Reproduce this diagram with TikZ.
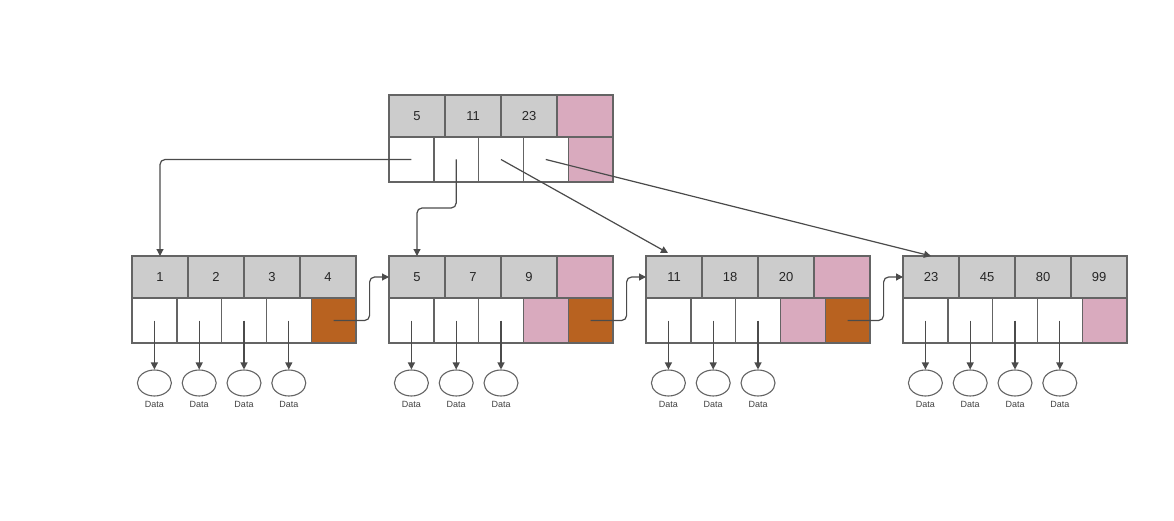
\documentclass[tikz,border=0pt]{standalone}
\usepackage{fontspec}
\setmainfont{Liberation Sans}
\usetikzlibrary{arrows.meta,positioning,calc,shapes.geometric}
\definecolor{keygray}{RGB}{204,204,204}
\definecolor{cellline}{RGB}{100,100,100}
\definecolor{arrowgray}{RGB}{75,75,75}
\definecolor{freepink}{RGB}{217,170,190}
\definecolor{nextbrown}{RGB}{184,98,32}

\begin{document}
\begin{tikzpicture}[x=1pt, y=-1pt,
    key/.style={draw=cellline, line width=1.4pt, fill=keygray, anchor=north west,
        minimum width=56pt, minimum height=42pt, inner sep=0pt, outer sep=0pt,
        font=\fontsize{13}{15}\selectfont, text=black!85},
    ptr/.style={draw=cellline, line width=1.4pt, fill=white, anchor=north west,
        minimum width=44.8pt, minimum height=45pt, inner sep=0pt, outer sep=0pt},
    free/.style={fill=freepink},
    next/.style={fill=nextbrown},
    datum/.style={ellipse, draw=cellline, line width=1.1pt, minimum width=34pt,
        minimum height=26pt, inner sep=0pt},
    lbl/.style={font=\fontsize{9}{10}\selectfont, text=black!75},
    arr/.style={-{Triangle[length=7pt, width=7pt]}, draw=arrowgray, line width=1.2pt}
]
    \useasboundingbox (0,0) rectangle (1174,521);

    % root node
    \foreach \k [count=\i] in {5,11,23}
        \node[key] (rk\i) at ({389+56*(\i-1)},95) {\k};
    \node[key, free] (rk4) at (557,95) {};
    \foreach \i in {1,...,4}
        \node[ptr] (rp\i) at ({389+44.8*(\i-1)},137) {};
    \node[ptr, free] (rp5) at (568.2,137) {};

    % leaf nodes with their data pointers
    \foreach \l/\x/\keys in {1/132/{1,2,3,4}, 2/389/{5,7,9}, 3/646/{11,18,20}, 4/903/{23,45,80,99}} {
        \foreach \k [count=\i] in \keys {
            \node[key] (l\l-k\i) at ({\x+56*(\i-1)},256) {\k};
            \node[ptr] (l\l-p\i) at ({\x+44.8*(\i-1)},298) {};
            \node[datum] (l\l-d\i) at (l\l-p\i.center |- 0,383) {};
            \node[lbl] (l\l-t\i) at (l\l-d\i.center |- 0,404) {Data};
            \draw[arr] (l\l-p\i.center) -- (l\l-d\i.north);
        }
    }

    % free slots and sibling links
    \node[key, free] (l2-k4) at (557,256) {};
    \node[key, free] (l3-k4) at (814,256) {};
    \node[ptr, free] (l2-p4) at (523.4,298) {};
    \node[ptr, free] (l3-p4) at (780.4,298) {};
    \node[ptr, next] (l1-p5) at (311.2,298) {};
    \node[ptr, next] (l2-p5) at (568.2,298) {};
    \node[ptr, next] (l3-p5) at (825.2,298) {};
    \node[ptr, free] (l4-p5) at (1082.2,298) {};

    % root to leaves
    \draw[arr, rounded corners=5pt] (rp1.center) -| (l1-k1.north);
    \draw[arr, rounded corners=5pt] (rp2.center) -- (rp2.center |- 0,208) -| (l2-k1.north);
    \draw[arr] (rp3.center) -- ([xshift=-6pt, yshift=3pt]l3-k1.north);
    \draw[arr] (rp4.center) -- (l4-k1.north);

    % leaf to leaf
    \draw[arr, rounded corners=5pt] (l1-p5.center) -- ++(36,0) |- (l2-k1.west);
    \draw[arr, rounded corners=5pt] (l2-p5.center) -- ++(36,0) |- (l3-k1.west);
    \draw[arr, rounded corners=5pt] (l3-p5.center) -- ++(36,0) |- (l4-k1.west);
\end{tikzpicture}
\end{document}
